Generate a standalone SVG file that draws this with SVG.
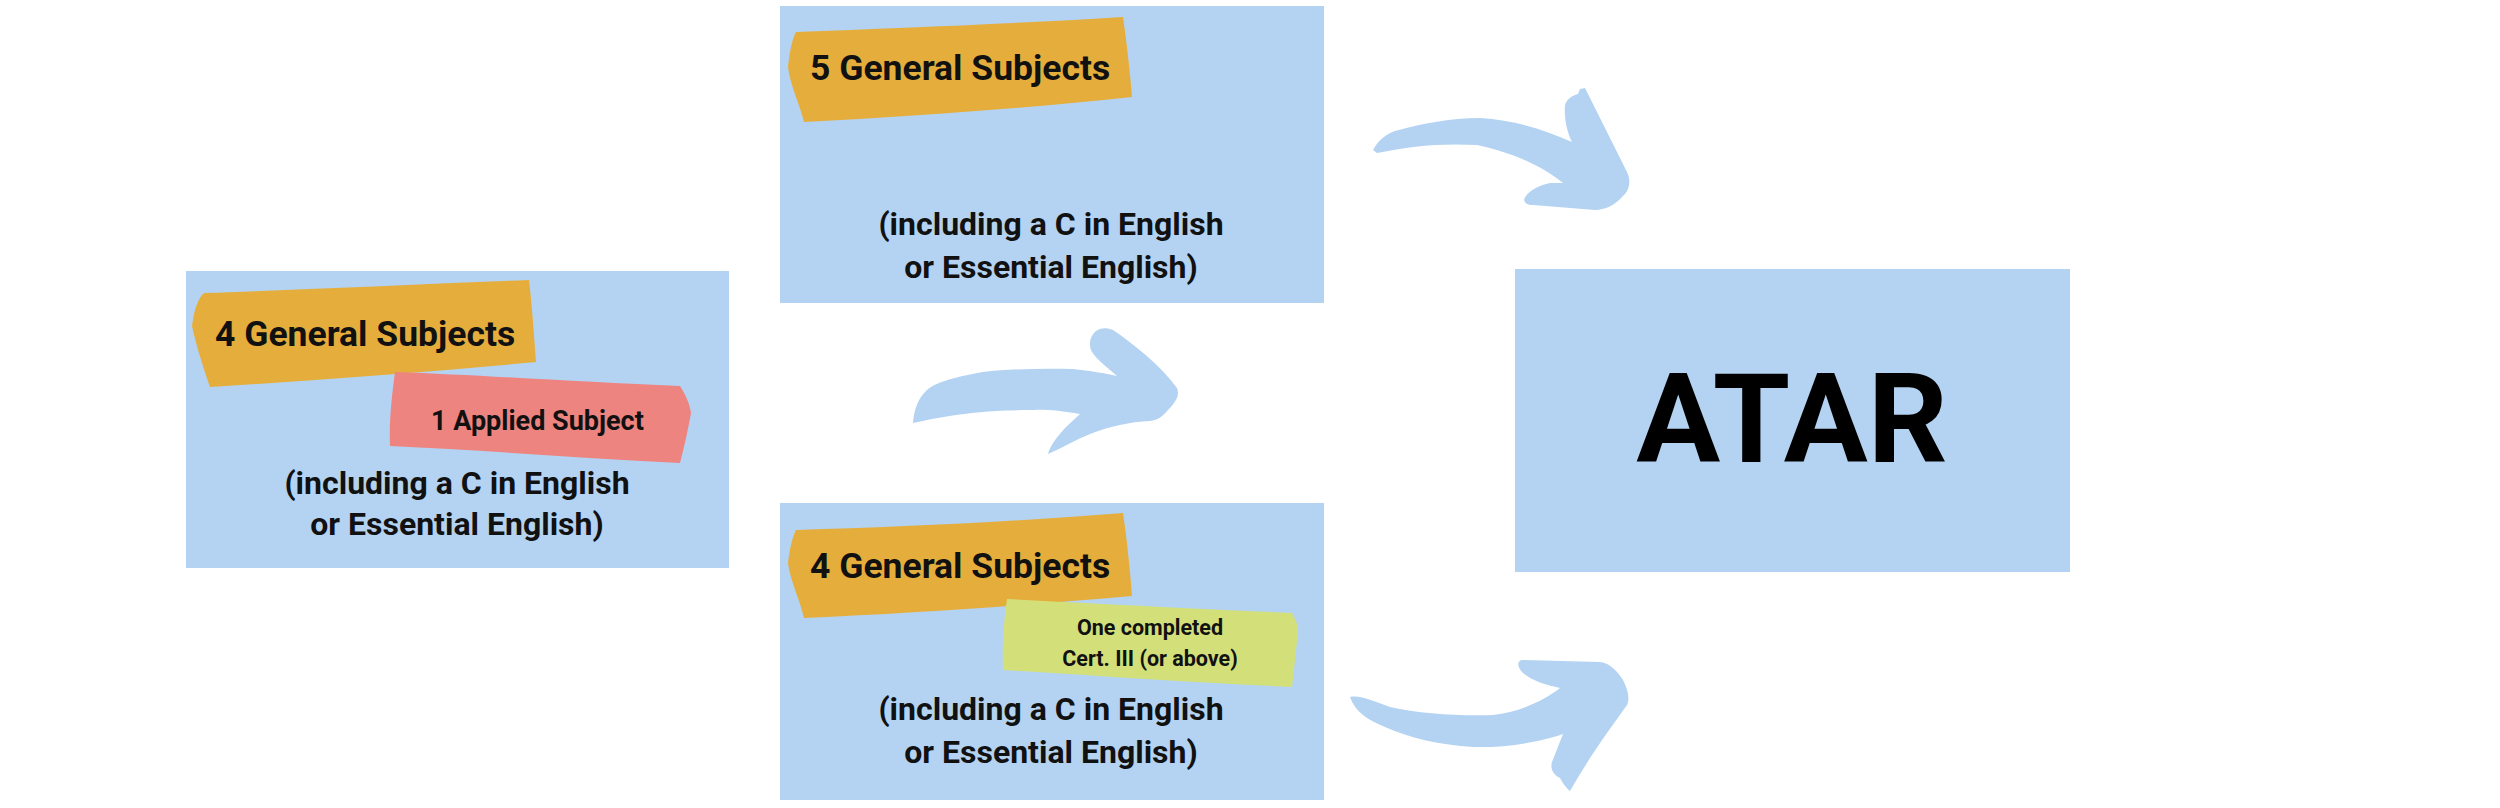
<svg xmlns="http://www.w3.org/2000/svg" width="2500" height="808" viewBox="0 0 2500 808">
<style>
.box{fill:#B4D3F2}
.orange{fill:#E5AE3C}
.pink{fill:#EE847F}
.green{fill:#D3E07A}
.arrow{fill:#B4D3F2}
text{font-family:Roboto,"Liberation Sans",sans-serif;font-weight:700;fill:#111}
.h{font-size:35.5px}
.b{font-size:32px;text-anchor:middle}
.s{font-size:27px}
.g{font-size:21.5px;text-anchor:middle}
.atar{font-size:125px;text-anchor:middle;fill:#000}
</style>
<rect width="2500" height="808" fill="#fff"/>
<g id="connectors">
<path class="arrow" d="M1373,150 C1378,140 1388,133 1395,131 C1420,124 1450,118 1480,118 C1515,120 1545,130 1572,142 C1566,130 1564,115 1565,105 C1567,98 1574,95 1578,94 L1580,89 L1585,88 L1627,172 C1631,180 1630,190 1623,196 C1615,205 1605,210 1595,210 L1533,205 C1525,205 1522,200 1526,196 C1530,190 1540,185 1550,183 L1563,183 C1545,168 1515,153 1477,145 C1440,143 1410,146 1377,153 Z"/>
<path class="arrow" d="M913,423 C914,410 918,398 927,390 C935,383 950,378 983,372 C1010,369 1040,368 1073,369 C1090,371 1105,373 1117,376 C1108,368 1097,360 1092,352 C1088,345 1090,336 1096,331 C1100,328 1106,327 1113,330 C1135,345 1160,365 1177,388 C1180,395 1176,402 1168,410 C1162,417 1158,420 1150,421 C1130,422 1110,426 1090,434 C1075,440 1062,448 1048,454 C1050,446 1056,438 1065,428 L1080,414 C1060,410 1040,409 1033,410 C1010,410 990,411 983,412 C960,414 940,417 913,423 Z"/>
<path class="arrow" d="M1350,697 C1360,695 1370,700 1390,707 C1420,714 1460,716 1493,715 C1520,712 1545,700 1560,688 C1545,685 1530,680 1522,672 C1517,666 1517,661 1522,660 L1600,662 C1610,663 1618,672 1623,680 C1628,690 1630,698 1627,705 L1607,733 C1595,750 1582,770 1570,791 C1566,788 1562,782 1560,778 C1553,775 1550,768 1552,762 L1563,734 C1540,742 1505,748 1473,747 C1440,745 1410,738 1385,727 C1368,720 1355,712 1350,697 Z"/>
</g>
<g id="node-left">
<rect class="box" x="186" y="271" width="543" height="297"/>
<path class="orange" d="M204,293 C300,290 420,284 529,280 C532,305 534,335 536,362 C430,372 320,380 210,387 C204,370 196,345 192,326 C194,310 198,298 204,293 Z"/>
<path class="pink" d="M395,372 C480,375 580,382 680,386 C686,395 690,405 691,413 C688,430 684,448 680,463 C580,458 480,450 390,446 C389,420 392,395 395,372 Z"/>
<text class="h" x="215" y="346">4 General Subjects</text>
<text class="s" x="431" y="430">1 Applied Subject</text>
<text class="b" x="457" y="494">(including a C in English</text>
<text class="b" x="457" y="535">or Essential English)</text>
</g>
<g id="node-top">
<rect class="box" x="780" y="6" width="544" height="297"/>
<path class="orange" d="M796,32 C900,28 1010,24 1123,17 C1127,45 1130,72 1132,97 C1030,108 920,116 804,122 C800,105 790,85 788,67 C790,50 792,40 796,32 Z"/>
<text class="h" x="810" y="80">5 General Subjects</text>
<text class="b" x="1051" y="235">(including a C in English</text>
<text class="b" x="1051" y="278">or Essential English)</text>
</g>
<g id="node-bottom">
<rect class="box" x="780" y="503" width="544" height="297"/>
<path class="orange" d="M796,530 C900,527 1010,522 1123,513 C1127,540 1130,570 1132,596 C1030,605 920,613 804,618 C800,600 790,580 788,563 C790,548 792,538 796,530 Z"/>
<path class="green" d="M1007,599 C1100,604 1200,609 1292,613 C1296,620 1298,625 1298,632 C1296,650 1294,670 1292,687 C1200,683 1100,676 1003,670 C1002,645 1004,620 1007,599 Z"/>
<text class="h" x="810" y="578">4 General Subjects</text>
<text class="g" x="1150" y="635">One completed</text>
<text class="g" x="1150" y="666">Cert. III (or above)</text>
<text class="b" x="1051" y="720">(including a C in English</text>
<text class="b" x="1051" y="763">or Essential English)</text>
</g>
<g id="node-atar">
<rect class="box" x="1515" y="269" width="555" height="303"/>
<text class="atar" x="1792" y="462">ATAR</text>
</g>
</svg>
